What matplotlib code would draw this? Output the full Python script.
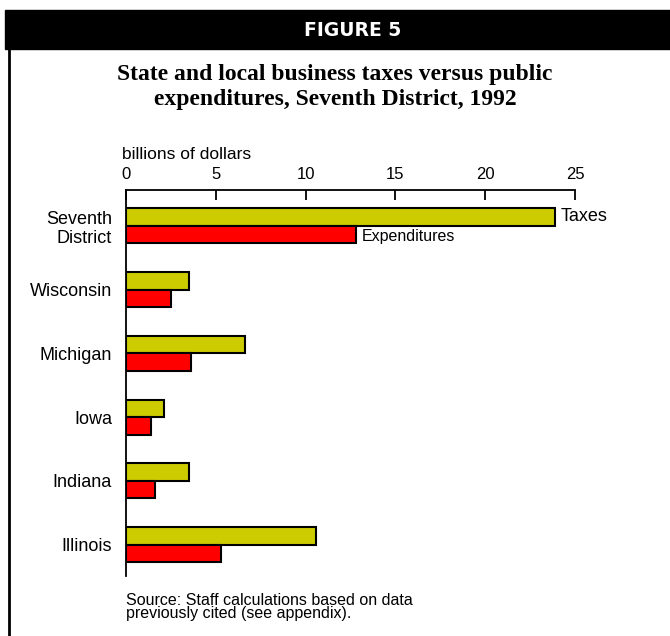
import numpy as np
import matplotlib
matplotlib.use('Agg')
import matplotlib.pyplot as plt
from matplotlib.patches import Rectangle
from matplotlib.lines import Line2D

# Data (billions of dollars, 1992)
states = ['Seventh\nDistrict', 'Wisconsin', 'Michigan', 'Iowa', 'Indiana', 'Illinois']
taxes = [23.9, 3.5, 6.6, 2.1, 3.5, 10.6]
expenditures = [12.8, 2.5, 3.6, 1.4, 1.6, 5.3]
xticks = [0, 5, 10, 15, 20, 25]

TAX_COL = '#cccc00'
EXP_COL = '#ff0000'
SANS = ['Liberation Sans', 'DejaVu Sans']
SERIF = ['Liberation Serif', 'DejaVu Serif']

W, H = 670, 636
fig = plt.figure(figsize=(W / 100, H / 100), dpi=100)

# header band + left rule
fig.patches.append(Rectangle((5 / W, 1 - 49 / H), 1 - 5 / W, 39 / H,
                             transform=fig.transFigure, color='black', zorder=0))
fig.lines.append(Line2D([9 / W, 9 / W], [0, 1 - 49 / H], transform=fig.transFigure,
                        color='black', linewidth=2))
fig.text(0.526, 1 - 30 / H, 'FIGURE 5', color='white', fontsize=13.5, fontweight='heavy',
         family=['DejaVu Sans'], ha='center', va='center')
fig.text(0.5, 1 - 87 / H,
         'State and local business taxes versus public\nexpenditures, Seventh District, 1992',
         fontsize=17, fontweight='bold', family=SERIF, ha='center', va='center',
         linespacing=1.22)

ax = fig.add_axes([126 / W, 60 / H, 449 / W, 386 / H])
y = np.arange(len(states))
bh = 0.275
ax.barh(y - bh / 2, taxes, height=bh, color=TAX_COL, edgecolor='black', linewidth=1.5)
ax.barh(y + bh / 2, expenditures, height=bh, color=EXP_COL, edgecolor='black', linewidth=1.5)

ax.set_xlim(0, 25)
ax.set_ylim(len(states) - 1 + 0.49, -0.56)
ax.xaxis.tick_top()
ax.set_xticks(xticks)
ax.set_xticklabels([str(t) for t in xticks], family=SANS, fontsize=12)
ax.tick_params(axis='x', direction='in', length=7, width=1.3, pad=6)
ax.set_yticks(y)
ax.set_yticklabels(states, family=SANS, fontsize=13, linespacing=1.15)
ax.tick_params(axis='y', length=0, pad=10)
for s in ['right', 'bottom']:
    ax.spines[s].set_visible(False)
ax.spines['top'].set_linewidth(1.3)
ax.spines['left'].set_linewidth(1.3)

fig.text(122 / W, 1 - 154 / H, 'billions of dollars', family=SANS,
         fontsize=12.5, ha='left', va='center')

# series labels
ax.text(taxes[0] + 0.3, y[0] - bh / 2, 'Taxes', family=SANS, fontsize=13,
        ha='left', va='center')
ax.text(expenditures[0] + 0.3, y[0] + bh / 2 + 0.03, 'Expenditures', family=SANS,
        fontsize=11.5, ha='left', va='center')

fig.text(126 / W, 1 - 607 / H, 'Source: Staff calculations based on data\npreviously cited (see appendix).',
         family=SANS, fontsize=11.5, ha='left', va='center', linespacing=0.9)

fig.savefig('out.png', dpi=100)
